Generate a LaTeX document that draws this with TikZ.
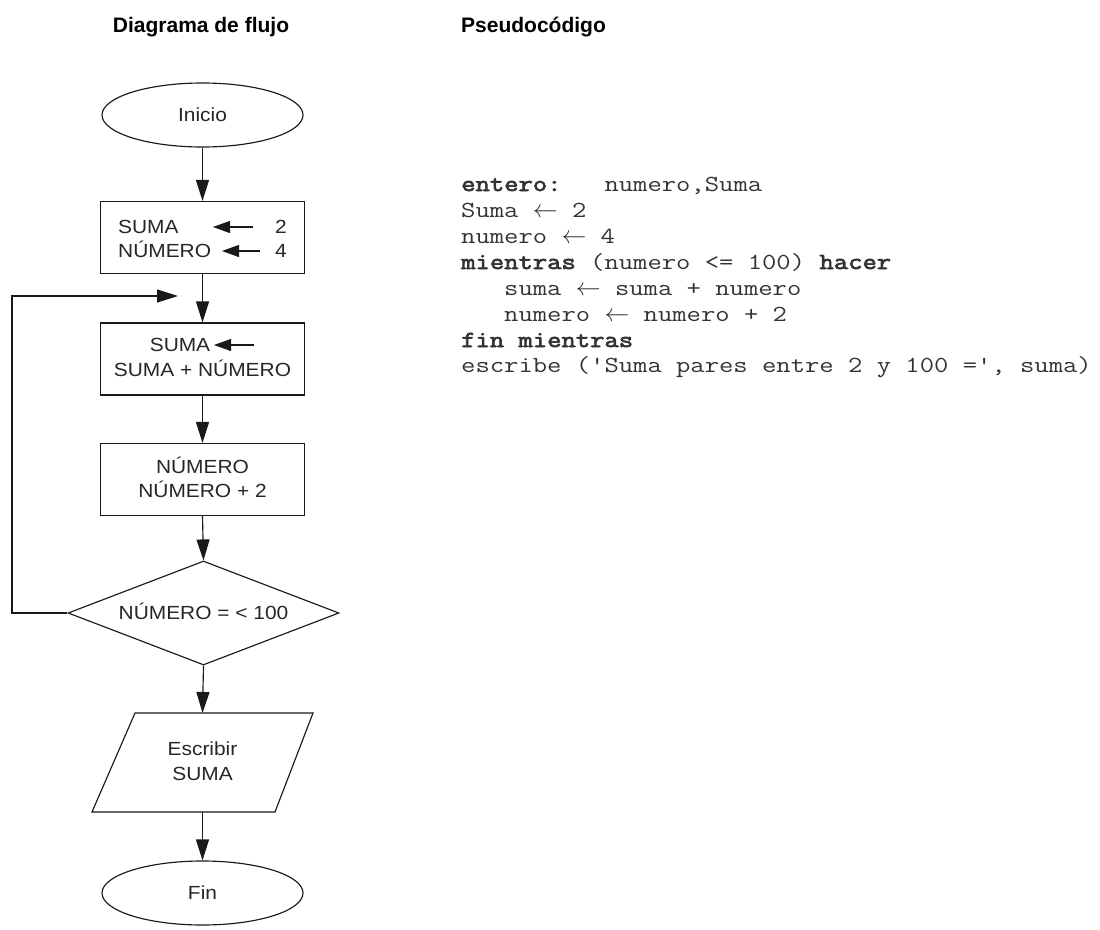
\documentclass[tikz,border=0pt]{standalone}
\usepackage{fontspec}
\setmainfont{Liberation Sans}
\newfontfamily\flowfont[FakeStretch=1.1]{Liberation Sans}
\newfontfamily\codefont[FakeStretch=1.21,
  BoldFont={Latin Modern Mono}, BoldFeatures={FakeBold=3}]{Latin Modern Mono}
\usetikzlibrary{arrows.meta,shapes.geometric}

\begin{document}
\begin{tikzpicture}[x=1pt,y=-1pt,
  flow/.style={draw=black!90, line width=1.15pt},
  txt/.style={font=\flowfont\fontsize{19}{23}\selectfont, text=black!85,
    inner sep=0pt, text height=13.6pt, text depth=0pt},
  term/.style={flow, ellipse, txt, minimum width=201pt, minimum height=64pt},
  proc/.style={flow, rectangle, inner sep=0pt, minimum width=204pt, minimum height=72pt},
  decision/.style={flow, diamond, txt, aspect=2.6, minimum width=271pt, minimum height=104pt},
  conn/.style={line width=1.15pt, draw=black!90, -{Triangle[length=21pt,width=13pt]}},
  assign/.style={line width=1.15pt, draw=black!90, -{Triangle[length=17pt,width=12pt]}},
  head/.style={font=\bfseries\fontsize{21}{25}\selectfont, inner sep=0pt, anchor=base},
  code/.style={anchor=base west, inner sep=0pt, text=black!80,
    text height=14pt, text depth=4pt,
    font=\codefont\fontsize{23}{26}\selectfont}
]
\useasboundingbox (0,0) rectangle (1100,929);

% column headings
\node[head] (h1) at (201,32.5) {Diagrama de flujo};
\node[head, anchor=base west] (h2) at (461,32.5) {Pseudocódigo};

% ---- flowchart ----
\node[term] (inicio) at (202.5,115) {Inicio};

\node[proc] (init) at (202.5,237.5) {};
\node[txt, anchor=west] (s1) at (118,227) {SUMA};
\node[txt, anchor=west] (n1) at (118,251) {NÚMERO};
\node[txt] (v2) at (281,227) {2};
\node[txt] (v4) at (281,251) {4};
\coordinate (a1s) at (253,227); \coordinate (a1e) at (213,227);
\coordinate (a2s) at (260,251); \coordinate (a2e) at (222,251);
\draw[assign] (a1s) -- (a1e);
\draw[assign] (a2s) -- (a2e);

\node[proc] (acc) at (202.5,359) {};
\node[txt] (s2) at (180,345) {SUMA};
\node[txt] (s2b) at (202.5,370) {SUMA + NÚMERO};
\coordinate (a3s) at (254,345); \coordinate (a3e) at (214,345);
\draw[assign] (a3s) -- (a3e);

\node[proc] (inc) at (202.5,479.5) {};
\node[txt] (n3) at (202.5,467) {NÚMERO};
\node[txt] (n3b) at (202.5,491) {NÚMERO + 2};

\node[decision] (cond) at (203.5,613) {NÚMERO = < 100};

% output parallelogram
\coordinate (p1) at (135,713); \coordinate (p2) at (313,713);
\coordinate (p3) at (275,812); \coordinate (p4) at (92,812);
\draw[flow, line join=miter] (p1) -- (p2) -- (p3) -- (p4) -- cycle;
\coordinate (outN) at (202.5,713); \coordinate (outS) at (202.5,812);
\node[txt] (o1) at (202.5,749) {Escribir};
\node[txt] (o2) at (202.5,774) {SUMA};

\node[term] (fin) at (202.5,893) {Fin};

% connectors
\draw[conn] (inicio.south) -- (init.north);
\draw[conn] (init.south) -- (acc.north);
\draw[conn] (acc.south) -- (inc.north);
\draw[conn] (inc.south) -- (cond.north);
\draw[conn] (cond.south) -- (outN);
\draw[conn] (outS) -- (fin.north);

% loop back into the body
\coordinate (loopL) at (12,296);
\coordinate (joinTip) at (178,296);
\draw[conn] (cond.west) -| (loopL) -- (joinTip);

% ---- pseudocode ----
\node[code] (c1) at (461,191) {\textbf{entero:}~~~numero,Suma};
\node[code] (c2) at (461,217) {Suma $\leftarrow$ 2};
\node[code] (c3) at (461,243) {numero $\leftarrow$ 4};
\node[code] (c4) at (461,269) {\textbf{mientras} (numero <= 100) \textbf{hacer}};
\node[code] (c5) at (504,295) {suma $\leftarrow$ suma + numero};
\node[code] (c6) at (504,321) {numero $\leftarrow$ numero + 2};
\node[code] (c7) at (461,347) {\textbf{fin mientras}};
\node[code] (c8) at (461,372) {escribe ('Suma pares entre 2 y 100 =', suma)};
\end{tikzpicture}
\end{document}
